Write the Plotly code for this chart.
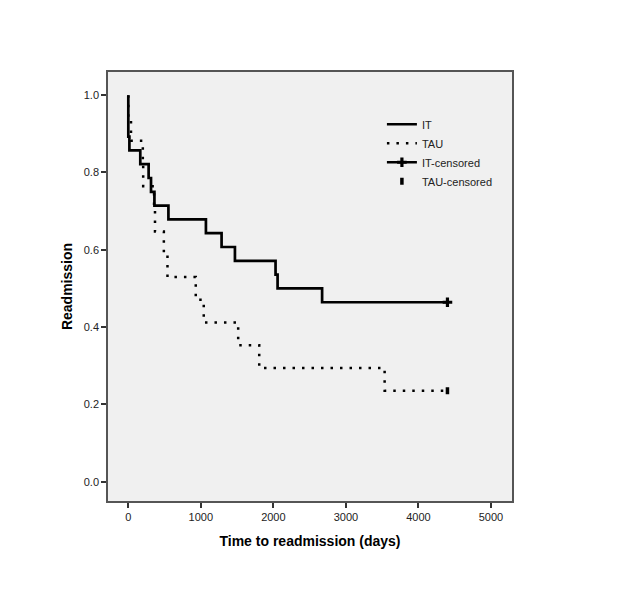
import plotly.graph_objects as go

# ---- data (Kaplan-Meier steps) ----
it_times = [0, 0, 0, 0, 15, 165, 280, 313, 360, 553, 1070, 1286, 1470, 2030, 2058, 2672, 4400]
it_surv = [1.0, 27/28, 26/28, 25/28, 24/28, 23/28, 22/28, 21/28, 20/28, 19/28, 18/28, 17/28,
           16/28, 15/28, 14/28, 13/28, 13/28]
tau_times = [0, 0, 37, 200, 205, 355, 368, 490, 540, 930, 1040, 1515, 1805, 3534, 4400]
tau_surv = [1.0, 16/17, 15/17, 14/17, 13/17, 12/17, 11/17, 10/17, 9/17, 8/17, 7/17, 6/17,
            5/17, 4/17, 4/17]
it_cens_t = [4400]
it_cens_s = [13/28]
tau_cens_t = [4400]
tau_cens_s = [4/17]

x_ticks = [0, 1000, 2000, 3000, 4000, 5000]
y_ticks = [0.0, 0.2, 0.4, 0.6, 0.8, 1.0]

FONT = "Liberation Sans, Arial, sans-serif"

fig = go.Figure()
fig.add_trace(go.Scatter(x=it_times, y=it_surv, mode="lines", name="IT",
                         line=dict(color="black", width=2.7, shape="hv")))
fig.add_trace(go.Scatter(x=tau_times, y=tau_surv, mode="lines", name="TAU",
                         line=dict(color="black", width=2.5, shape="hv", dash="2.5px,7px")))
fig.add_trace(go.Scatter(x=it_cens_t, y=it_cens_s, mode="lines+markers", name="IT-censored",
                         line=dict(color="black", width=2.7),
                         marker=dict(symbol="cross", size=8, color="black")))
fig.add_trace(go.Scatter(x=tau_cens_t, y=tau_cens_s, mode="markers", name="TAU-censored",
                         marker=dict(symbol="line-ns", size=5, color="black",
                                     line=dict(color="black", width=3.5))))

fig.update_layout(
    width=629, height=614,
    margin=dict(l=100, r=125, t=64, b=121),
    paper_bgcolor="white", plot_bgcolor="#f0f0f0",
    font=dict(family=FONT, size=11, color="#222222"),
    showlegend=True,
    legend=dict(x=0.678, y=0.912, xanchor="left", yanchor="top",
                bgcolor="rgba(0,0,0,0)", itemwidth=30,
                font=dict(family=FONT, size=11, color="#222222")),
)
fig.update_xaxes(range=[-280, 5290], tickvals=x_ticks, ticks="outside", ticklen=5,
                 tickwidth=1.5, tickcolor="#333333", showgrid=False, zeroline=False,
                 showline=True, linecolor="#555555", linewidth=1.5, mirror=True,
                 title=dict(text="<b>Time to readmission (days)</b>", standoff=14,
                            font=dict(family=FONT, size=14, color="black")))
fig.update_yaxes(range=[-0.05, 1.06], tickvals=y_ticks, tickformat=".1f", ticks="outside",
                 ticklen=5, tickwidth=1.5, tickcolor="#333333", showgrid=False, zeroline=False,
                 showline=True, linecolor="#555555", linewidth=1.5, mirror=True,
                 title=dict(text="<b>Readmission</b>", standoff=8,
                            font=dict(family=FONT, size=14, color="black")))

fig.write_html("out.html")
